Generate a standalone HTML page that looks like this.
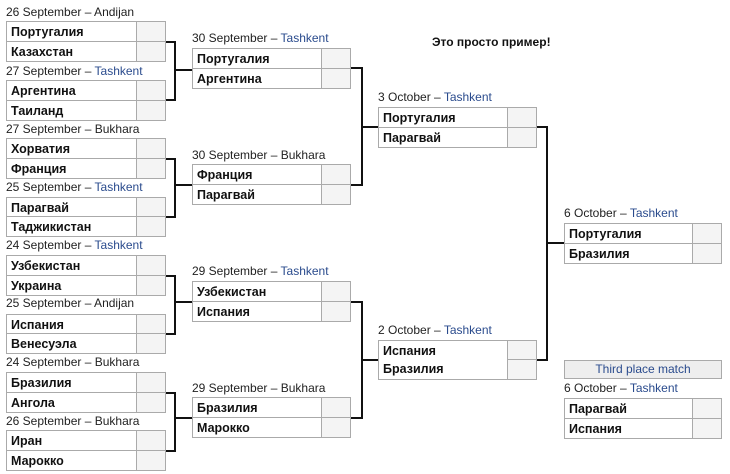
<!DOCTYPE html>
<html><head><meta charset="utf-8"><style>
body{margin:0;width:730px;height:474px;background:#fff;position:relative;overflow:hidden;font-family:"Liberation Sans","DejaVu Sans",sans-serif}
.l{position:absolute;font-size:12px;color:#222;white-space:nowrap;line-height:14px}
.l b{font-weight:normal;color:#2a4b8d}
.n,.s{position:absolute;box-sizing:border-box;border:1px solid #aaa;height:21px}
.n{background:#fff;font-weight:bold;font-size:12.5px;line-height:20px;padding-left:4px;color:#111}
.s{background:#f4f4f4}
.h,.v{position:absolute;background:#111}
.h{height:2px}.v{width:2px}
</style></head><body>
<div class="l" style="left:6px;top:5px">26 September – Andijan</div>
<div class="n" style="left:6px;top:21px;width:131px">Португалия</div><div class="s" style="left:136px;top:21px;width:30px"></div>
<div class="n" style="left:6px;top:41px;width:131px">Казахстан</div><div class="s" style="left:136px;top:41px;width:30px"></div>
<div class="l" style="left:6px;top:64px">27 September – <b>Tashkent</b></div>
<div class="n" style="left:6px;top:80px;width:131px">Аргентина</div><div class="s" style="left:136px;top:80px;width:30px"></div>
<div class="n" style="left:6px;top:100px;width:131px">Таиланд</div><div class="s" style="left:136px;top:100px;width:30px"></div>
<div class="l" style="left:6px;top:122px">27 September – Bukhara</div>
<div class="n" style="left:6px;top:138px;width:131px">Хорватия</div><div class="s" style="left:136px;top:138px;width:30px"></div>
<div class="n" style="left:6px;top:158px;width:131px">Франция</div><div class="s" style="left:136px;top:158px;width:30px"></div>
<div class="l" style="left:6px;top:180px">25 September – <b>Tashkent</b></div>
<div class="n" style="left:6px;top:197px;width:131px">Парагвай</div><div class="s" style="left:136px;top:197px;width:30px"></div>
<div class="n" style="left:6px;top:216px;width:131px">Таджикистан</div><div class="s" style="left:136px;top:216px;width:30px"></div>
<div class="l" style="left:6px;top:238px">24 September – <b>Tashkent</b></div>
<div class="n" style="left:6px;top:255px;width:131px">Узбекистан</div><div class="s" style="left:136px;top:255px;width:30px"></div>
<div class="n" style="left:6px;top:275px;width:131px">Украина</div><div class="s" style="left:136px;top:275px;width:30px"></div>
<div class="l" style="left:6px;top:296px">25 September – Andijan</div>
<div class="n" style="left:6px;top:314px;width:131px">Испания</div><div class="s" style="left:136px;top:314px;width:30px"></div>
<div class="n" style="left:6px;top:333px;width:131px">Венесуэла</div><div class="s" style="left:136px;top:333px;width:30px"></div>
<div class="l" style="left:6px;top:355px">24 September – Bukhara</div>
<div class="n" style="left:6px;top:372px;width:131px">Бразилия</div><div class="s" style="left:136px;top:372px;width:30px"></div>
<div class="n" style="left:6px;top:392px;width:131px">Ангола</div><div class="s" style="left:136px;top:392px;width:30px"></div>
<div class="l" style="left:6px;top:414px">26 September – Bukhara</div>
<div class="n" style="left:6px;top:430px;width:131px">Иран</div><div class="s" style="left:136px;top:430px;width:30px"></div>
<div class="n" style="left:6px;top:450px;width:131px">Марокко</div><div class="s" style="left:136px;top:450px;width:30px"></div>

<div class="h" style="left:166px;top:41px;width:10px"></div><div class="h" style="left:166px;top:99px;width:10px"></div><div class="v" style="left:174px;top:41px;height:60px"></div><div class="h" style="left:174px;top:69px;width:18px"></div>
<div class="h" style="left:166px;top:158px;width:10px"></div><div class="h" style="left:166px;top:216px;width:10px"></div><div class="v" style="left:174px;top:158px;height:60px"></div><div class="h" style="left:174px;top:184px;width:18px"></div>
<div class="h" style="left:166px;top:275px;width:10px"></div><div class="h" style="left:166px;top:333px;width:10px"></div><div class="v" style="left:174px;top:275px;height:60px"></div><div class="h" style="left:174px;top:301px;width:18px"></div>
<div class="h" style="left:166px;top:392px;width:10px"></div><div class="h" style="left:166px;top:450px;width:10px"></div><div class="v" style="left:174px;top:392px;height:60px"></div><div class="h" style="left:174px;top:417px;width:18px"></div>

<div class="l" style="left:192px;top:31px">30 September – <b>Tashkent</b></div>
<div class="n" style="left:192px;top:48px;width:130px">Португалия</div><div class="s" style="left:321px;top:48px;width:30px"></div>
<div class="n" style="left:192px;top:68px;width:130px">Аргентина</div><div class="s" style="left:321px;top:68px;width:30px"></div>
<div class="l" style="left:192px;top:148px">30 September – Bukhara</div>
<div class="n" style="left:192px;top:164px;width:130px">Франция</div><div class="s" style="left:321px;top:164px;width:30px"></div>
<div class="n" style="left:192px;top:184px;width:130px">Парагвай</div><div class="s" style="left:321px;top:184px;width:30px"></div>
<div class="l" style="left:192px;top:264px">29 September – <b>Tashkent</b></div>
<div class="n" style="left:192px;top:281px;width:130px">Узбекистан</div><div class="s" style="left:321px;top:281px;width:30px"></div>
<div class="n" style="left:192px;top:301px;width:130px">Испания</div><div class="s" style="left:321px;top:301px;width:30px"></div>
<div class="l" style="left:192px;top:381px">29 September – Bukhara</div>
<div class="n" style="left:192px;top:397px;width:130px">Бразилия</div><div class="s" style="left:321px;top:397px;width:30px"></div>
<div class="n" style="left:192px;top:417px;width:130px">Марокко</div><div class="s" style="left:321px;top:417px;width:30px"></div>

<div class="h" style="left:351px;top:67px;width:12px"></div><div class="h" style="left:351px;top:184px;width:12px"></div><div class="v" style="left:361px;top:67px;height:119px"></div><div class="h" style="left:361px;top:126px;width:17px"></div>
<div class="h" style="left:351px;top:301px;width:12px"></div><div class="h" style="left:351px;top:417px;width:12px"></div><div class="v" style="left:361px;top:301px;height:118px"></div><div class="h" style="left:361px;top:359px;width:17px"></div>

<div class="l" style="left:378px;top:90px">3 October – <b>Tashkent</b></div>
<div class="n" style="left:378px;top:107px;width:130px">Португалия</div><div class="s" style="left:507px;top:107px;width:30px"></div>
<div class="n" style="left:378px;top:127px;width:130px">Парагвай</div><div class="s" style="left:507px;top:127px;width:30px"></div>
<div class="l" style="left:378px;top:323px">2 October – <b>Tashkent</b></div>
<div class="n" style="left:378px;top:340px;width:130px;border-bottom:none">Испания</div><div class="s" style="left:507px;top:340px;width:30px"></div>
<div class="n" style="left:378px;top:359px;width:130px;border-top:none">Бразилия</div><div class="s" style="left:507px;top:359px;width:30px"></div>

<div class="h" style="left:537px;top:126px;width:11px"></div><div class="h" style="left:537px;top:359px;width:11px"></div><div class="v" style="left:546px;top:126px;height:235px"></div><div class="h" style="left:546px;top:242px;width:18px"></div>

<div class="l" style="left:564px;top:206px">6 October – <b>Tashkent</b></div>
<div class="n" style="left:564px;top:223px;width:129px">Португалия</div><div class="s" style="left:692px;top:223px;width:30px"></div>
<div class="n" style="left:564px;top:243px;width:129px">Бразилия</div><div class="s" style="left:692px;top:243px;width:30px"></div>

<div style="position:absolute;left:564px;top:360px;width:158px;height:19px;box-sizing:border-box;border:1px solid #aaa;background:#eee;color:#2a4b8d;font-size:12px;line-height:17px;text-align:center">Third place match</div>
<div class="l" style="left:564px;top:381px">6 October – <b>Tashkent</b></div>
<div class="n" style="left:564px;top:398px;width:129px">Парагвай</div><div class="s" style="left:692px;top:398px;width:30px"></div>
<div class="n" style="left:564px;top:418px;width:129px">Испания</div><div class="s" style="left:692px;top:418px;width:30px"></div>

<div class="l" style="left:432px;top:35px;font-weight:bold;color:#111">Это просто пример!</div>
</body></html>
